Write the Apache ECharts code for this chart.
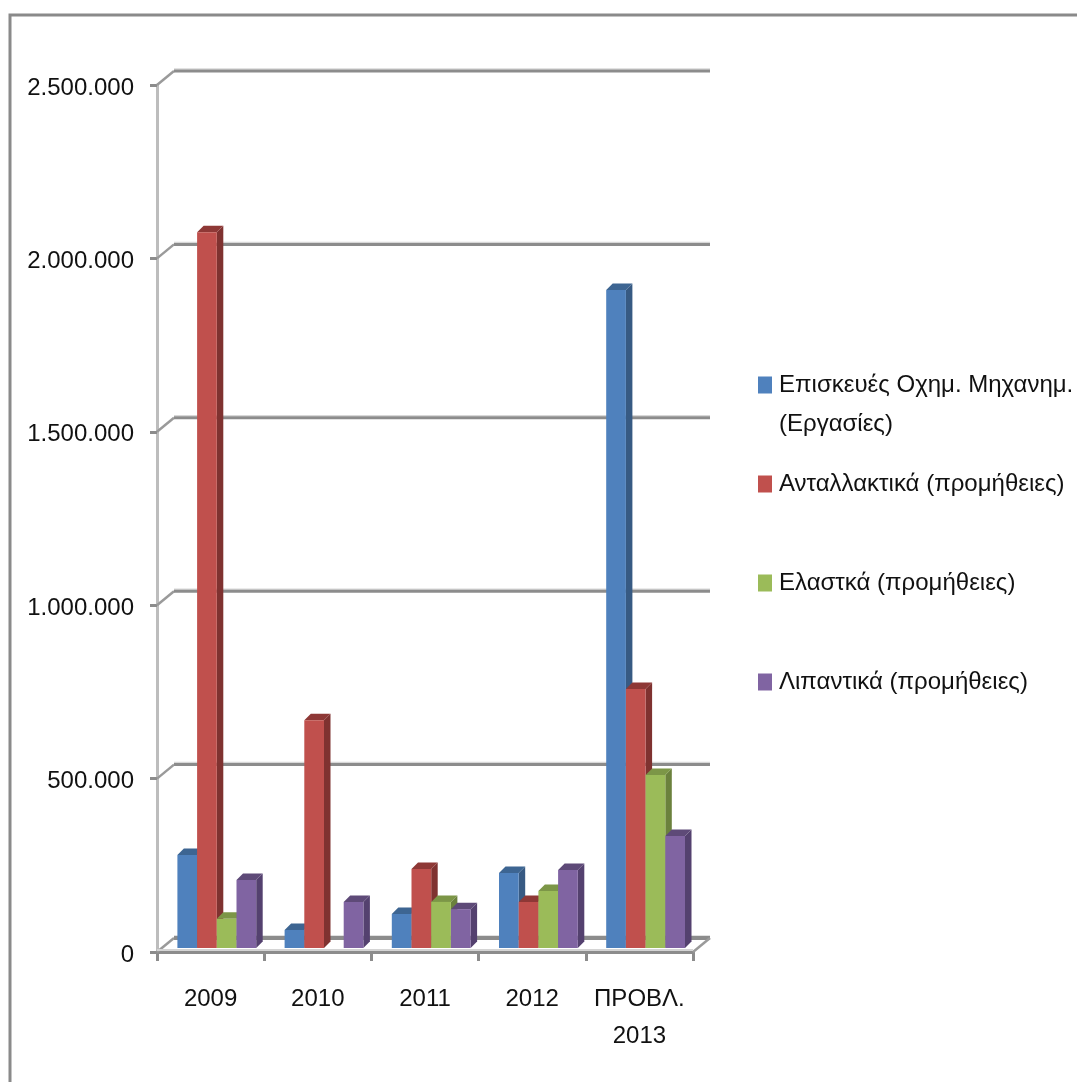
<!DOCTYPE html>
<html><head><meta charset="utf-8">
<style>html,body{margin:0;padding:0;background:#fff}#c{width:1077px;height:1082px}</style>
<script src="https://cdn.jsdelivr.net/npm/echarts@6/dist/echarts.min.js"></script>
</head><body><div id="c"></div>
<script>
const categories = ['2009','2010','2011','2012','ΠΡΟΒΛ.\n2013'];
const repairs = [268000, 52000, 98000, 216000, 1897000];
const parts   = [2064000, 657000, 228000, 133000, 747000];
const tyres   = [84000, 0, 133000, 164000, 499000];
const lubes   = [196000, 133000, 112000, 225000, 323000];
const yTicks  = [0, 500000, 1000000, 1500000, 2000000, 2500000];
const names = ['Επισκευές Οχημ. Μηχανημ.\n(Εργασίες)','Ανταλλακτικά (προμήθειες)','Ελαστκά (προμήθειες)','Λιπαντικά (προμήθειες)'];
const seriesValues = [repairs, parts, tyres, lubes];
const faces = [
  {front:'#4f81bd', top:'#3d6592', side:'#375a83'},
  {front:'#c0504d', top:'#8e3836', side:'#7f3230'},
  {front:'#9bbb59', top:'#7c9647', side:'#6b813d'},
  {front:'#8064a2', top:'#5e4a78', side:'#54416f'}
];
const FONT = '"Liberation Sans",Arial,sans-serif';
const FS = 24;
const DX = 17, DY = 14, BW = 19.7, BAR_DX = 20.4, BAR_DY = 4, D = 6.5;

const chart = echarts.init(document.getElementById('c'));

function barSeries(i){
  return {
    type:'custom', name:names[i], z:3,
    itemStyle:{color:faces[i].front},
    encode:{x:0,y:1},
    data:seriesValues[i].map((v,k)=>[k,v]),
    renderItem(params, api){
      const k = api.value(0), v = api.value(1);
      if(!v) return null;
      const band = api.size([1,0])[0];
      const c = api.coord([k,v]), b = api.coord([k,0]);
      const x0 = c[0]-band/2 + BAR_DX + i*BW, x1 = x0+BW;
      const yt = c[1]-BAR_DY, yb = b[1]-BAR_DY;
      const poly = (pts,fill)=>({type:'polygon',shape:{points:pts},style:{fill:fill}});
      return {type:'group',children:[
        poly([[x1,yb],[x1+D,yb-D],[x1+D,yt-D],[x1,yt]],faces[i].side),
        poly([[x0,yt],[x0+D,yt-D],[x1+D,yt-D],[x1,yt]],faces[i].top),
        poly([[x0,yt],[x1,yt],[x1,yb],[x0,yb]],faces[i].front)
      ]};
    }
  };
}

const wallSeries = {
  type:'custom', name:'walls', z:1, silent:true,
  encode:{x:0,y:1},
  data:yTicks.map(v=>[0,v]),
  renderItem(params, api){
    const v = api.value(1);
    const r = params.coordSys;
    const y = api.coord([0,v])[1];
    const left = r.x, right = r.x+r.width;
    const ln = (x1,y1,x2,y2,color,w)=>({type:'line',shape:{x1,y1,x2,y2},style:{stroke:color,lineWidth:w}});
    const ch = [
      ln(left,y,left+DX,y-DY,'#9a9a9a',2.5),
      ln(left+DX,y-DY-2,right+DX,y-DY-2,'#d8d8d8',1.5),
      ln(left+DX,y-DY,right+DX,y-DY,'#8c8c8c',v===0?4:3)
    ];
    if(v===0){
      ch.push(ln(right,y,right+DX,y-DY,'#9a9a9a',2.5));
      ch.push(ln(left,y-2,right,y-2,'#d4d4d4',2));
    }
    return {type:'group',children:ch};
  }
};

const tops = [373,472,571,670];
chart.setOption({
  animation:false,
  backgroundColor:'#fff',
  textStyle:{fontFamily:FONT},
  grid:{left:157,right:384,top:85,bottom:130,containLabel:false},
  xAxis:{type:'category',data:categories,
    axisLine:{lineStyle:{color:'#8c8c8c',width:3}},
    axisTick:{show:true,length:9,lineStyle:{color:'#8c8c8c',width:3}},
    axisLabel:{color:'#111',fontSize:FS,fontFamily:FONT,margin:29,lineHeight:37,interval:0},
    splitLine:{show:false}},
  yAxis:{type:'value',min:0,max:2500000,interval:500000,
    axisLine:{show:true,lineStyle:{color:'#bdbdbd',width:3}},
    axisTick:{show:true,length:7,lineStyle:{color:'#8c8c8c',width:3}},
    axisLabel:{color:'#111',fontSize:FS,fontFamily:FONT,margin:23,verticalAlign:'top',lineHeight:6,
      formatter:v=>String(v).replace(/\B(?=(\d{3})+(?!\d))/g,'.')},
    splitLine:{show:false}},
  legend:names.map((n,i)=>({
    data:[n],left:758,top:tops[i],orient:'vertical',selectedMode:false,
    icon:'rect',itemWidth:14,itemHeight:17,padding:0,
    formatter:s=>s.split('\n')[0],
    textStyle:{color:'#111',fontSize:FS,fontFamily:FONT,padding:[0,0,0,2]}
  })),
  graphic:[
    {type:'polyline',shape:{points:[[10,1082],[10,15],[1077,15]]},style:{stroke:'#8a8a8a',lineWidth:3,fill:null},silent:true},
    {type:'text',left:779,top:412,silent:true,style:{text:'(Εργασίες)',fill:'#111',font:FS+'px '+FONT}}
  ],
  series:[wallSeries].concat(names.map((n,i)=>barSeries(i)))
});
</script></body></html>
